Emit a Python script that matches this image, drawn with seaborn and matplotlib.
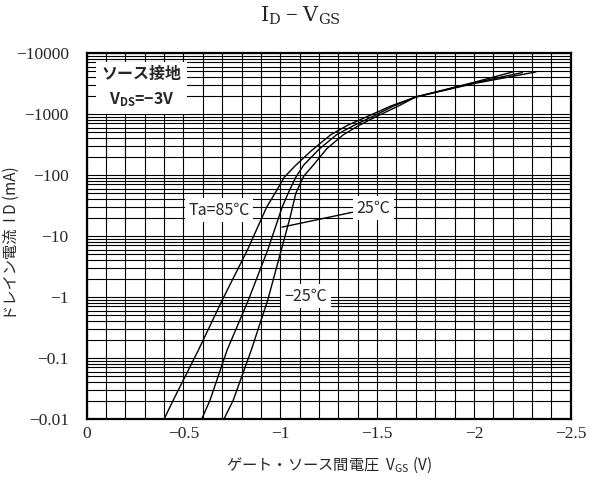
import matplotlib
matplotlib.use("Agg")
import matplotlib.pyplot as plt
import matplotlib.ticker as mticker
import seaborn as sns
import pandas as pd

# gate-source voltage (V) and drain current magnitude (mA)
vgs_85 = [-0.40, -0.447, -0.577, -0.70, -0.83, -0.93, -0.98, -1.02, -1.08, -1.16, -1.26, -1.35, -1.45, -1.57, -1.70, -2.00, -2.32]
id_85 = [0.01, 0.0204, 0.135, 0.89, 5.9, 30, 55, 92, 145, 250, 457, 660, 912, 1350, 1905, 3160, 4900]

vgs_25 = [-0.594, -0.637, -0.725, -0.835, -0.935, -1.01, -1.04, -1.08, -1.12, -1.20, -1.29, -1.38, -1.47, -1.59, -1.70, -2.00, -2.25]
id_25 = [0.01, 0.0204, 0.135, 0.89, 5.9, 30, 50, 92, 145, 265, 457, 650, 890, 1380, 1905, 3240, 4790]

vgs_m25 = [-0.709, -0.757, -0.85, -0.935, -1.005, -1.05, -1.08, -1.12, -1.17, -1.24, -1.325, -1.41, -1.49, -1.615, -1.70, -2.00, -2.20]
id_m25 = [0.01, 0.0204, 0.135, 0.89, 5.9, 20, 50, 95, 145, 270, 457, 660, 890, 1380, 1905, 3310, 4900]

x_ticks = [0, -0.5, -1, -1.5, -2, -2.5]
x_labels = ["0", "\u22120.5", "\u22121", "\u22121.5", "\u22122", "\u22122.5"]
y_ticks = [0.01, 0.1, 1, 10, 100, 1000, 10000]
y_labels = ["\u22120.01", "\u22120.1", "\u22121", "\u221210", "\u2212100", "\u22121000", "\u221210000"]

df = pd.concat([
    pd.DataFrame({"VGS": vgs_85, "ID": id_85, "Ta": "85"}),
    pd.DataFrame({"VGS": vgs_25, "ID": id_25, "Ta": "25"}),
    pd.DataFrame({"VGS": vgs_m25, "ID": id_m25, "Ta": "-25"}),
], ignore_index=True)

sns.set_style("white")
plt.rcParams["font.family"] = ["Noto Sans CJK JP", "DejaVu Sans"]
plt.rcParams["mathtext.default"] = "regular"

serif = ["Liberation Serif", "DejaVu Serif"]
jp = ["Noto Sans CJK JP", "DejaVu Sans"]

fig = plt.figure(figsize=(5.95, 4.93), dpi=100)
ax = fig.add_axes([0.1457, 0.150, 0.8135, 0.7424])

sns.lineplot(data=df, x="VGS", y="ID", hue="Ta", units="Ta", estimator=None,
             palette=["black", "black", "black"], linewidth=1.0, legend=False, ax=ax)

ax.set_yscale("log")
ax.set_xlim(0, -2.5)
ax.set_ylim(0.01, 10000)

# grid: every 0.1 V and every log minor step
ax.set_xticks(x_ticks)
ax.set_xticklabels(x_labels, fontfamily=serif, fontsize=12.5)
ax.xaxis.set_minor_locator(mticker.MultipleLocator(0.1))
ax.set_yticks(y_ticks)
ax.set_yticklabels(y_labels, fontfamily=serif, fontsize=12.5)
ax.yaxis.set_minor_locator(mticker.LogLocator(base=10, subs=range(2, 10), numticks=20))
ax.yaxis.set_minor_formatter(mticker.NullFormatter())
ax.grid(True, which="both", color="black", linewidth=0.8)
ax.tick_params(which="both", length=0)
ax.tick_params(axis="x", pad=5)
ax.tick_params(axis="y", pad=13)
for sp in ax.spines.values():
    sp.set_color("black")
    sp.set_linewidth(1.6)

ax.set_xlabel("ゲート・ソース間電圧  $\\mathregular{V_{GS}}$ (V)", fontfamily=jp, fontsize=11, labelpad=9)
ax.set_ylabel("ドレイン電流  I D (mA)", fontfamily=jp, fontsize=11)
ax.yaxis.set_label_coords(-0.138, 0.48)

fig.text(0.505, 0.967, "$\\mathrm{I_D}$ \u2212 $\\mathrm{V_{GS}}$", ha="center", va="center",
         fontsize=15, fontfamily=serif, math_fontfamily="dejavuserif")

box = dict(facecolor="white", edgecolor="none", pad=2.5)
ax.text(0.114, 0.907, "ソース接地\n$\\mathregular{V_{DS}}$=\u22123V", transform=ax.transAxes,
        ha="center", va="center", fontsize=11.5, linespacing=1.6, fontfamily=jp,
        fontweight="bold", bbox=dict(facecolor="white", edgecolor="none", pad=4))
ax.text(0.273, 0.571, "Ta=85℃", transform=ax.transAxes, ha="center", va="center",
        fontsize=11.5, fontfamily=jp, bbox=box)
ax.annotate("25℃", xy=(-1.009, 14), xycoords="data", xytext=(0.592, 0.577),
            textcoords="axes fraction", ha="center", va="center", fontsize=11.5,
            fontfamily=jp, bbox=box,
            arrowprops=dict(arrowstyle="-", color="black", linewidth=1.0, shrinkA=0, shrinkB=0))
ax.text(0.453, 0.336, "\u221225℃", transform=ax.transAxes, ha="center", va="center",
        fontsize=11.5, fontfamily=jp, bbox=box)

fig.savefig("out.png", dpi=100)
